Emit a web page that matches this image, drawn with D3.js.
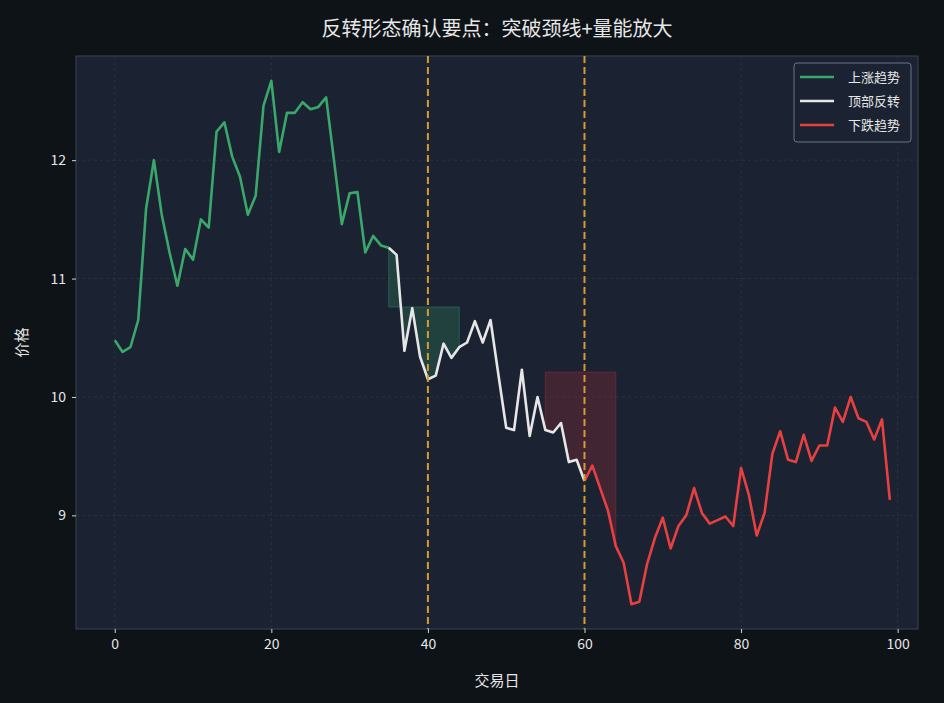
<!DOCTYPE html><html><head><meta charset="utf-8"><script src="https://cdn.jsdelivr.net/npm/d3@7"></script>
<style>body{margin:0;background:#0e1317}</style></head><body><svg id="c" width="944" height="703"></svg><script>
const prices=[10.48,10.38,10.42,10.65,11.59,12.00,11.54,11.22,10.94,11.25,11.16,11.50,11.43,12.24,12.32,12.03,11.86,11.54,11.70,12.46,12.67,12.07,12.40,12.40,12.49,12.43,12.45,12.53,12.0,11.46,11.72,11.73,11.22,11.36,11.28,11.26,11.20,10.39,10.75,10.34,10.15,10.18,10.45,10.33,10.42,10.46,10.64,10.46,10.65,10.19,9.74,9.72,10.23,9.67,10.0,9.72,9.70,9.78,9.45,9.47,9.29,9.42,9.23,9.04,8.74,8.60,8.25,8.27,8.59,8.81,8.98,8.72,8.91,9.0,9.23,9.02,8.93,8.96,8.99,8.91,9.40,9.17,8.83,9.02,9.52,9.71,9.47,9.45,9.68,9.46,9.59,9.59,9.91,9.79,10.0,9.82,9.79,9.64,9.81,9.13];
const segments=[{name:"上涨趋势",from:0,to:35,color:"#3aa86b"},{name:"顶部反转",from:35,to:60,color:"#e6e6e6"},{name:"下跌趋势",from:60,to:99,color:"#e84040"}];
const zones=[{from:35,to:44,level:10.76,color:"#2f7a55"},{from:55,to:64,level:10.21,color:"#8a2a35"}];
const vlines=[40,60];
const xTicks=[0,20,40,60,80,100], yTicks=[9,10,11,12];
const svg=d3.select("#c");
const L=76,R=918,T=56,B=629;
const x=d3.scaleLinear().domain([-4.95,102.6]).range([L,R]);
const y=d3.scaleLinear().domain([8.04,12.88]).range([B,T]);
svg.append("rect").attr("x",L).attr("y",T).attr("width",R-L).attr("height",B-T).attr("fill","#1b2333").attr("stroke","#3a4450");
const grid=svg.append("g").attr("stroke","#2c3646").attr("stroke-dasharray","3,3").attr("stroke-width",0.8);
xTicks.forEach(t=>grid.append("line").attr("x1",x(t)).attr("x2",x(t)).attr("y1",T).attr("y2",B));
yTicks.forEach(t=>grid.append("line").attr("y1",y(t)).attr("y2",y(t)).attr("x1",L).attr("x2",R));
const xa=svg.append("g").attr("transform",`translate(0,${B})`).call(d3.axisBottom(x).tickValues(xTicks).tickFormat(d3.format("d")).tickSize(4).tickPadding(6));
const ya=svg.append("g").attr("transform",`translate(${L},0)`).call(d3.axisLeft(y).tickValues(yTicks).tickFormat(d3.format("d")).tickSize(4).tickPadding(6));
[xa,ya].forEach(a=>{a.select(".domain").remove();a.selectAll("line").attr("stroke","#cfd4da");a.selectAll("text").attr("fill","#e6e6e6").style("font-family","Noto Sans CJK SC, DejaVu Sans").style("font-size","14px");});
const data=prices.map((v,i)=>({i,v}));
zones.forEach(z=>{const d=data.filter(p=>p.i>=z.from&&p.i<=z.to);
svg.append("path").datum(d).attr("d",d3.area().x(p=>x(p.i)).y0(y(z.level)).y1(p=>y(p.v))).attr("fill",z.color).attr("fill-opacity",0.35).attr("stroke",z.color).attr("stroke-opacity",0.6);});
segments.forEach(s=>{svg.append("path").datum(data.filter(p=>p.i>=s.from&&p.i<=s.to)).attr("d",d3.line().x(p=>x(p.i)).y(p=>y(p.v))).attr("fill","none").attr("stroke",s.color).attr("stroke-width",2.6).attr("stroke-linejoin","round");});
vlines.forEach(v=>svg.append("line").attr("x1",x(v)).attr("x2",x(v)).attr("y1",T).attr("y2",B).attr("stroke","#d89a2e").attr("stroke-width",2).attr("stroke-dasharray","7,4"));
const f="Noto Sans CJK SC, DejaVu Sans";
svg.append("text").attr("x",(L+R)/2).attr("y",36).attr("text-anchor","middle").attr("fill","#e6e6e6").style("font-family",f).style("font-size","20px").text("反转形态确认要点：突破颈线+量能放大");
svg.append("text").attr("x",(L+R)/2).attr("y",686).attr("text-anchor","middle").attr("fill","#e6e6e6").style("font-family",f).style("font-size","15px").text("交易日");
svg.append("text").attr("transform",`translate(27,${(T+B)/2}) rotate(-90)`).attr("text-anchor","middle").attr("fill","#e6e6e6").style("font-family",f).style("font-size","15px").text("价格");
const lg=svg.append("g").attr("transform","translate(794,63)");
lg.append("rect").attr("width",117).attr("height",79).attr("rx",3).attr("fill","#1b2333").attr("stroke","#6a7480");
segments.forEach((s,k)=>{const yy=14+k*24;lg.append("line").attr("x1",6).attr("x2",40).attr("y1",yy).attr("y2",yy).attr("stroke",s.color).attr("stroke-width",2.6);
lg.append("text").attr("x",54).attr("y",yy+5).attr("fill","#e6e6e6").style("font-family",f).style("font-size","13px").text(s.name);});
</script></body></html>
